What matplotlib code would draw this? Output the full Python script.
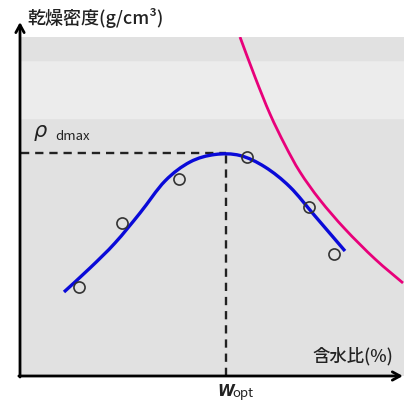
import matplotlib.pyplot as plt
from matplotlib.path import Path
from matplotlib.patches import PathPatch

plt.rcParams['font.family'] = ['Noto Sans CJK JP', 'DejaVu Sans']

# 締固め曲線 (含水比 %, 乾燥密度 g/cm3)
w_curve = [4.4, 7.0, 9.5, 12.0, 14.5, 17.0, 19.5, 22.0, 24.5, 27.0, 29.5, 32.5]
rho_curve = [1.284, 1.308, 1.333, 1.363, 1.395, 1.414, 1.4215, 1.4205, 1.409, 1.389, 1.360, 1.325]

# 試験値
w_pts = [5.9, 10.2, 15.9, 22.7, 28.9, 31.4]
rho_pts = [1.289, 1.353, 1.397, 1.419, 1.369, 1.322]

# ゼロ空気間隙曲線
w_zav = [22.0, 23.5, 25.0, 26.5, 28.0, 30.0, 32.5, 35.5, 38.3]
rho_zav = [1.539, 1.499, 1.462, 1.431, 1.404, 1.376, 1.347, 1.317, 1.293]

w_opt = 20.6
rho_dmax = 1.423


def smooth_path(xs, ys):
    # Catmull-Rom -> ベジェ曲線（描画用）
    pts = list(zip(xs, ys))
    verts = [pts[0]]
    codes = [Path.MOVETO]
    for i in range(len(pts) - 1):
        p0 = pts[i - 1] if i > 0 else pts[i]
        p1 = pts[i]
        p2 = pts[i + 1]
        p3 = pts[i + 2] if i + 2 < len(pts) else pts[i + 1]
        c1 = (p1[0] + (p2[0] - p0[0]) / 6, p1[1] + (p2[1] - p0[1]) / 6)
        c2 = (p2[0] - (p3[0] - p1[0]) / 6, p2[1] - (p3[1] - p1[1]) / 6)
        verts += [c1, c2, p2]
        codes += [Path.CURVE4] * 3
    return Path(verts, codes)


fig = plt.figure(figsize=(4.04, 4.01), dpi=100)
ax = fig.add_axes([20/404, 25/401, 384/404, 339/401])
ax.set_xlim(0, 38.4)
ax.set_ylim(1.2, 1.539)
ax.axis('off')

# 背景の帯
ax.axhspan(1.2, 1.458, color='#e1e1e1', zorder=0)
ax.axhspan(1.458, 1.516, color='#ececec', zorder=0)
ax.axhspan(1.516, 1.539, color='#e1e1e1', zorder=0)

# 破線
ax.plot([0.1, w_opt], [rho_dmax, rho_dmax], color='#222222', lw=1.7, ls=(0, (3.5, 2.5)), zorder=2)
ax.plot([w_opt, w_opt], [1.2, rho_dmax], color='#222222', lw=1.7, ls=(0, (3.5, 2.5)), zorder=2)

ax.add_patch(PathPatch(smooth_path(w_zav, rho_zav), fc='none', ec='#e8007a', lw=2.0, zorder=3))
ax.add_patch(PathPatch(smooth_path(w_curve, rho_curve), fc='none', ec='#0a0ad8', lw=2.4, zorder=3))
ax.plot(w_pts, rho_pts, 'o', ms=8, mfc='none', mec='#333333', mew=1.2, zorder=4)

# 軸（矢印）
arrow = dict(arrowstyle='->,head_length=0.55,head_width=0.3', lw=2, color='black', shrinkA=0, shrinkB=0)
ax.annotate('', xy=(0, 1.044), xytext=(0, -0.003), xycoords='axes fraction', arrowprops=arrow, annotation_clip=False)
ax.annotate('', xy=(0.997, 0), xytext=(-0.003, 0), xycoords='axes fraction', arrowprops=arrow, annotation_clip=False)

# ラベル
fig.text(27/404, 1 - 18/401, '乾燥密度(g/cm³)', fontsize=13, color='#222222', va='center', ha='left', weight='medium')
fig.text(393/404, 1 - 356/401, '含水比(%)', fontsize=12.5, color='#222222', va='center', ha='right', weight='medium')
fig.text(34/404, 1 - 131/401, 'ρ', fontsize=15, color='#222222', va='center', ha='left', style='italic', family='DejaVu Sans')
fig.text(55/404, 1 - 137/401, 'dmax', fontsize=9.5, color='#222222', va='center', ha='left')
fig.text(217/404, 1 - 392/401, 'W', fontsize=11, color='#222222', va='center', ha='left', style='italic', weight='bold', family='DejaVu Sans')
fig.text(232/404, 1 - 394/401, 'opt', fontsize=9.5, color='#222222', va='center', ha='left')

fig.savefig('out.png', dpi=100)
